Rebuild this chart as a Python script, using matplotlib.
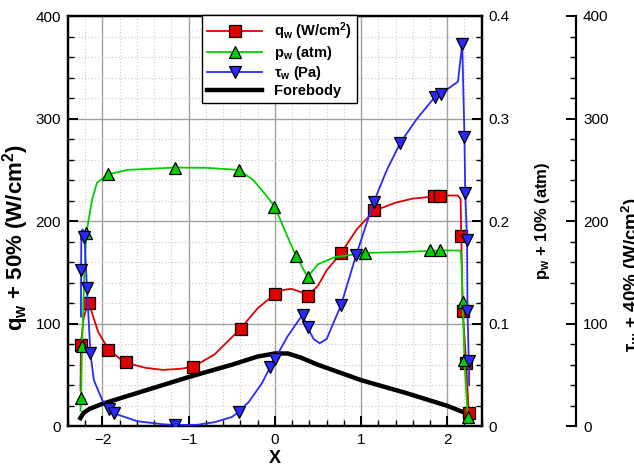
import matplotlib
matplotlib.use('Agg')
import matplotlib.pyplot as plt
from matplotlib.ticker import MultipleLocator, FuncFormatter

plt.rcParams['font.family'] = ['Liberation Sans', 'DejaVu Sans']
plt.rcParams['mathtext.default'] = 'regular'

# heat flux q_w (W/cm2): line and symbols
qw_x = [-2.255, -2.25, -2.22, -2.18, -2.155, -2.12, -2.05, -1.93, -1.8, -1.73, -1.5, -1.3, -1.1,
        -0.95, -0.7, -0.4, -0.2, 0.0, 0.1, 0.19, 0.3, 0.38, 0.5, 0.6, 0.77, 0.95, 1.15, 1.4,
        1.6, 1.85, 2.0, 2.12, 2.155, 2.163, 2.18, 2.22, 2.25]
qw_y = [35, 80, 105, 117, 120, 110, 92, 75, 66, 62, 57, 55, 56, 58, 70, 95, 115, 129, 133, 134,
        131, 127, 137, 152, 169, 192, 210, 218, 222, 224, 225, 225, 222, 185, 112, 62, 12]
qw_mx = [-2.248, -2.155, -1.934, -1.729, -0.95, -0.395, 0.0, 0.38, 0.767, 1.147, 1.85, 1.92,
         2.163, 2.18, 2.22, 2.25]
qw_my = [79.5, 120.2, 74.6, 62.6, 57.7, 94.8, 129.3, 127.4, 169, 210.5, 224.4, 224.4,
         185.3, 112, 61.6, 12.7]

# pressure p_w (atm)
pw_x = [-2.255, -2.248, -2.237, -2.21, -2.186, -2.12, -2.063, -1.934, -1.71, -1.16, -0.8, -0.415,
        -0.25, -0.1, 0.0, 0.12, 0.244, 0.38, 0.5, 0.7, 1.047, 1.5, 1.92, 2.12, 2.155, 2.165,
        2.18, 2.2, 2.24]
pw_y = [0.015, 0.027, 0.078, 0.15, 0.189, 0.221, 0.2375, 0.2456, 0.25, 0.2522, 0.252, 0.2499,
        0.24, 0.225, 0.214, 0.19, 0.1665, 0.1456, 0.158, 0.165, 0.169, 0.170, 0.1714, 0.1714,
        0.171, 0.16, 0.1208, 0.0648, 0.005]
pw_mx = [-2.248, -2.237, -2.186, -1.934, -1.16, -0.415, -0.008, 0.244, 0.38, 1.047, 1.80, 1.92,
         2.18, 2.20, 2.24]
pw_my = [0.0274, 0.0785, 0.1887, 0.2456, 0.2522, 0.2499, 0.214, 0.1665, 0.1456, 0.169, 0.1714,
         0.1714, 0.1208, 0.0648, 0.0094]

# shear stress tau_w (Pa)
tw_x = [-2.25, -2.248, -2.245, -2.23, -2.209, -2.18, -2.14, -2.1, -2.0, -1.92, -1.868, -1.6,
        -1.3, -1.16, -0.9, -0.7, -0.5, -0.415, -0.3, -0.15, -0.055, 0.0, 0.15, 0.322, 0.38,
        0.45, 0.52, 0.6, 0.767, 0.945, 1.147, 1.3, 1.457, 1.65, 1.853, 1.922, 2.124, 2.174,
        2.2, 2.209, 2.23, 2.235, 2.25, 2.255]
tw_y = [107, 150, 190, 192, 185, 135, 71, 45, 25, 16.6, 12.7, 5, 2, 1.3, 1.5, 4, 9, 14.3, 24,
        42, 57.7, 65.5, 88, 108.8, 96.4, 85, 81, 85, 117.9, 167.4, 218.6, 250, 276.6, 300,
        320.6, 323.8, 336, 372.8, 282.5, 227.8, 182.1, 112, 63.2, 40]
tw_mx = [-2.249, -2.209, -2.18, -2.14, -1.92, -1.868, -1.16, -0.415, -0.055, 0.0, 0.322, 0.38,
         0.767, 0.945, 1.147, 1.457, 1.853, 1.922, 2.174, 2.2, 2.209, 2.23, 2.235, 2.25]
tw_my = [152.8, 184.7, 134.9, 71.4, 16.6, 12.7, 1.3, 14.3, 57.7, 65.5, 108.8, 96.4, 117.9,
         167.4, 218.6, 276.6, 320.6, 323.8, 372.8, 282.5, 227.8, 182.1, 112, 63.2]

# forebody outline
fb_x = [-2.256, -2.22, -2.15, -2.0, -1.5, -1.0, -0.5, -0.2, 0.0, 0.15, 0.3, 0.5, 1.0, 1.5,
        2.0, 2.24]
fb_y = [8, 13, 17, 22, 35, 48, 60, 68, 71, 71, 67, 60, 45, 33, 20, 12]

red = '#e00000'
green = '#00d000'
blue = '#2a2aff'

fig = plt.figure(figsize=(6.34, 4.68), dpi=100)
ax = fig.add_axes([68 / 634, 1 - 426.3 / 468, (481.7 - 68) / 634, (426.3 - 16) / 468])
ax2 = ax.twinx()
ax3 = ax.twinx()

ms = 8.5
ax.plot(qw_x, qw_y, color=red, lw=1.3, zorder=3)
ax.plot(qw_mx, qw_my, ls='none', marker='s', ms=ms, mfc=red, mec='black', mew=0.9, zorder=4)
ax.plot(fb_x, fb_y, color='black', lw=3.2, zorder=2)

ax2.plot(pw_x, pw_y, color=green, lw=1.3, zorder=3)
ax2.plot(pw_mx, pw_my, ls='none', marker='^', ms=ms, mfc=green, mec='black', mew=0.9, zorder=4)

ax3.plot(tw_x, tw_y, color=blue, lw=1.3, zorder=3)
ax3.plot(tw_mx, tw_my, ls='none', marker='v', ms=ms, mfc=blue, mec='black', mew=0.9, zorder=4)

ax.set_xlim(-2.4, 2.4)
ax.set_ylim(0, 400)
ax2.set_ylim(0, 0.4)
ax3.set_ylim(0, 400)

ax.xaxis.set_major_locator(MultipleLocator(1))
ax.xaxis.set_minor_locator(MultipleLocator(0.2))
ax.yaxis.set_major_locator(MultipleLocator(100))
ax.yaxis.set_minor_locator(MultipleLocator(20))
ax2.yaxis.set_major_locator(MultipleLocator(0.1))
ax2.yaxis.set_minor_locator(MultipleLocator(0.02))
ax2.yaxis.set_major_formatter(FuncFormatter(lambda v, p: '%g' % round(v, 3)))
ax3.yaxis.set_major_locator(MultipleLocator(100))
ax3.yaxis.set_minor_locator(MultipleLocator(20))

ax.grid(which='major', color='#a0a0a0', lw=1.0)
ax.grid(which='minor', color='#c8c8c8', lw=0.8, ls=(0, (1, 2)))
ax.set_axisbelow(True)

for a in (ax, ax2, ax3):
    a.tick_params(which='major', direction='in', length=7, width=1.4, labelsize=11, pad=5)
    a.tick_params(which='minor', direction='in', length=4, width=1.0)
    for s in a.spines.values():
        s.set_linewidth(1.6)
ax.tick_params(top=False, right=False)

ax3.spines['right'].set_position(('outward', 68))
for k in ('left', 'top', 'bottom'):
    ax3.spines[k].set_visible(False)

ax.set_xlabel('X', labelpad=2, fontsize=13, fontweight='bold')
ax.set_ylabel('q$_w$ + 50% (W/cm$^2$)', fontsize=16, fontweight='bold')
ax.yaxis.set_label_coords(-0.089, 0.46)
ax2.set_ylabel('p$_w$ + 10% (atm)', fontsize=12, fontweight='bold')
ax2.yaxis.set_label_coords(1.125, 0.5)
ax3.set_ylabel('τ$_w$ + 40% (W/cm$^2$)', fontsize=13.5, fontweight='bold')
ax3.yaxis.set_label_coords(1.334, 0.37)

h = [
    plt.Line2D([], [], color=red, lw=1.3, marker='s', ms=ms, mfc=red, mec='black', mew=0.9),
    plt.Line2D([], [], color=green, lw=1.3, marker='^', ms=ms, mfc=green, mec='black', mew=0.9),
    plt.Line2D([], [], color=blue, lw=1.3, marker='v', ms=ms, mfc=blue, mec='black', mew=0.9),
    plt.Line2D([], [], color='black', lw=3.2),
]
names = ['q$_w$ (W/cm$^2$)', 'p$_w$ (atm)', 'τ$_w$ (Pa)', 'Forebody']
leg = ax3.legend(h, names, loc='upper right', bbox_to_anchor=(357 / 634, 1 - 15 / 468),
                 bbox_transform=fig.transFigure, frameon=True, fancybox=False,
                 edgecolor='black', framealpha=1, handlelength=3.8, handletextpad=0.8,
                 labelspacing=0.15, borderpad=0.35, borderaxespad=0,
                 prop={'weight': 'bold', 'size': 10.5})
leg.get_frame().set_linewidth(1.0)

fig.savefig('out.png', dpi=100)
